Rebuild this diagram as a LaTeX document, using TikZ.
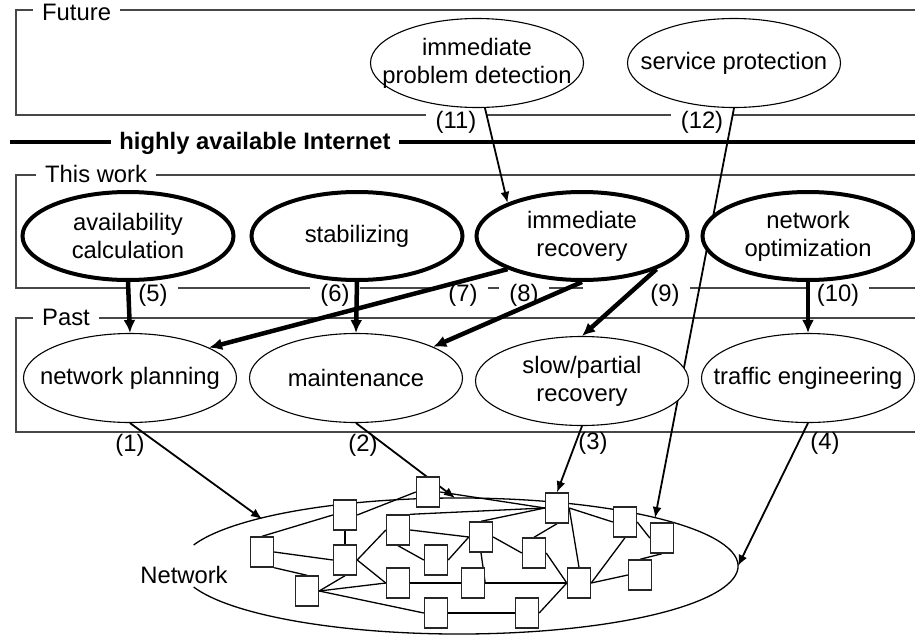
\documentclass[tikz,border=0pt]{standalone}
\usepackage{fontspec}
\setmainfont{Liberation Sans}
\usetikzlibrary{arrows.meta,shapes.geometric}
\pgfdeclarelayer{frames}
\pgfdeclarelayer{top}
\pgfsetlayers{frames,main,top}
\newcommand{\figfont}{\fontsize{23.8}{28}\selectfont}
\begin{document}
\begin{tikzpicture}[x=1pt,y=-1pt,
  font=\figfont,
  frameline/.style={draw=black!72, line width=1.2pt},
  grouplabel/.style={fill=white, inner xsep=9pt, inner ysep=1pt, anchor=west},
  tag/.style={fill=white, inner xsep=10pt, inner ysep=1pt},
  plaintag/.style={inner sep=1pt},
  txt/.style={align=center, inner sep=0pt},
  pastnode/.style={ellipse, draw, line width=1.1pt, fill=white,
    minimum width=213pt, minimum height=89pt, inner sep=0pt},
  worknode/.style={ellipse, draw, line width=4pt, fill=white,
    minimum width=211pt, minimum height=88pt, inner sep=0pt},
  thinarrow/.style={line width=1.8pt, -{Latex[length=11pt,width=9pt]}},
  thickarrow/.style={line width=4.5pt, -{Latex[length=13pt,width=12pt]}},
  router/.style={rectangle, draw=black!85, line width=1.4pt, fill=white,
    minimum width=23pt, minimum height=30pt, inner sep=0pt},
  link/.style={line width=1.3pt}
]
\useasboundingbox (0,0) rectangle (915,637);

% ---------- group frames and their captions ----------
\begin{pgfonlayer}{frames}
  \fill[white] (0,0) rectangle (915,637);
  \draw[frameline] (915,10) -- (16,10) -- (16,115) -- (915,115);
  \draw[frameline] (915,175) -- (16,175) -- (16,288) -- (583,288);
  \draw[frameline] (640,288) -- (915,288);
  \draw[frameline] (915,318) -- (16,318) -- (16,432) -- (915,432);
  \draw[line width=4pt] (10,142) -- (915,142);

  \node[grouplabel] (gFuture) at (33,12) {Future};
  \node[grouplabel] (gWork) at (36,174) {This work};
  \node[grouplabel] (gPast) at (33,317) {Past};
  \node[fill=white, inner xsep=8pt, inner ysep=1pt, font={\figfont\bfseries}]
    (gGoal) at (255,143) {highly available Internet};

  \node[tag] (t5)  at (153,295) {(5)};
  \node[tag] (t6)  at (335,295) {(6)};
  \node[tag] (t7)  at (463,295) {(7)};
  \node[tag] (t8)  at (524,295) {(8)};
  \node[tag] (t9)  at (665,295) {(9)};
  \node[tag] (t10) at (838,295) {(10)};
  \node[tag] (t11) at (456,122) {(11)};
  \node[tag] (t12) at (702,122) {(12)};
  \node[plaintag] (t1) at (130,445) {(1)};
  \node[plaintag] (t2) at (363,445) {(2)};
  \node[plaintag] (t3) at (593,443) {(3)};
  \node[plaintag] (t4) at (825,443) {(4)};
\end{pgfonlayer}

% ---------- topic ellipses ----------
\begin{pgfonlayer}{top}
  \node[pastnode, label={[txt]center:immediate\\problem detection}] (detect) at (477,63) {};
  \node[pastnode, label={[txt]center:service protection}] (protect) at (734,63) {};

  \node[worknode, label={[txt]center:availability\\calculation}] (avail) at (128,236) {};
  \node[worknode, label={[txt]center:stabilizing}] (stab) at (357,236) {};
  \node[worknode, label={[txt]center:immediate\\recovery}] (recov) at (582,236) {};
  \node[worknode, label={[txt]center:network\\optimization}] (optim) at (808,236) {};

  \node[pastnode, label={[txt]center:network planning}] (plan) at (130,378) {};
  \node[pastnode, label={[txt]center:maintenance}] (maint) at (356,378) {};
  \node[pastnode, label={[txt]center:slow/partial\\recovery}] (slow) at (582,381) {};
  \node[pastnode, label={[txt]center:traffic engineering}] (traffic) at (808,378) {};

  % routers of the network
  \node[router] (rA) at (428,492) {};
  \node[router] (rB) at (345,515) {};
  \node[router] (rC) at (398,530) {};
  \node[router] (rD) at (262,552) {};
  \node[router] (rE) at (345,560) {};
  \node[router] (rF) at (436,560) {};
  \node[router] (rG) at (307,591) {};
  \node[router] (rH) at (398,583) {};
  \node[router] (rI) at (436,613) {};
  \node[router] (rJ) at (557,508) {};
  \node[router] (rK) at (481,537) {};
  \node[router] (rL) at (534,553) {};
  \node[router] (rM) at (473,583) {};
  \node[router] (rN) at (579,583) {};
  \node[router] (rO) at (527,613) {};
  \node[router] (rP) at (625,522) {};
  \node[router] (rQ) at (662,538) {};
  \node[router] (rR) at (640,575) {};
\end{pgfonlayer}

% ---------- the network cloud ----------
\draw[line width=1.3pt] (459,566) ++(-162:279pt and 68pt)
  arc[start angle=-162, end angle=162, x radius=279pt, y radius=68pt];
\node[inner sep=0pt] (netname) at (184,575) {Network};

\coordinate (e1) at (262,519);
\coordinate (e2) at (455,498);
\coordinate (e4) at (738,566);
\coordinate (e12) at (655,518);

% links between routers
\draw[link] (rD.north) -- (rB.west);
\draw[link] (rD.east) -- (rE.west);
\draw[link] (rD.south east) -- (rG.north);
\draw[link] (rB.south) -- (rE.north);
\draw[link] (rB.east) -- (rA.west);
\draw[link] (rE.east) -- (rC.west);
\draw[link] (rE.east) -- (rH.west);
\draw[link] (rG.east) -- (rE.south);
\draw[link] (rG.east) -- (rH.west);
\draw[link] (rG.east) -- (rI.west);
\draw[link] (rC.north east) -- (rJ.west);
\draw[link] (rC.east) -- (rK.west);
\draw[link] (rC.south) -- (rF.west);
\draw[link] (rA.east) -- (rJ.west);
\draw[link] (rK.north) -- (rJ.west);
\draw[link] (rK.west) -- (rF.east);
\draw[link] (rK.east) -- (rL.west);
\draw[link] (rK.south) -- (rM.east);
\draw[link] (rL.north) -- (rJ.south);
\draw[link] (rL.east) -- (rN.west);
\draw[link] (rJ.east) -- (rN.north);
\draw[link] (rJ.east) -- (rP.west);
\draw[link] (rP.east) -- (rQ.west);
\draw[link] (rP.south) -- (rN.east);
\draw[link] (rQ.south) -- (rR.north);
\draw[link] (rR.west) -- (rN.east);
\draw[link] (rH.east) -- (rM.west);
\draw[link] (rM.east) -- (rN.west);
\draw[link] (rI.east) -- (rO.west);
\draw[link] (rO.east) -- (rN.west);

% ---------- relations ----------
\draw[thinarrow] (detect.280) -- (recov.156);
\draw[thinarrow] (protect.south) -- (e12);

\draw[thickarrow] (avail.south) -- (plan.north);
\draw[thickarrow] (stab.south) -- (maint.north);
\draw[thickarrow] (recov.204) -- (plan.21);
\draw[thickarrow] (recov.south) -- (maint.22);
\draw[thickarrow] (recov.336) -- (slow.north);
\draw[thickarrow] (optim.south) -- (traffic.north);

\draw[thinarrow] (plan.south) -- (e1);
\draw[thinarrow] (maint.south) -- (e2);
\draw[thinarrow] (slow.south) -- (rJ.north);
\draw[thinarrow] (traffic.south) -- (e4);
\end{tikzpicture}
\end{document}
